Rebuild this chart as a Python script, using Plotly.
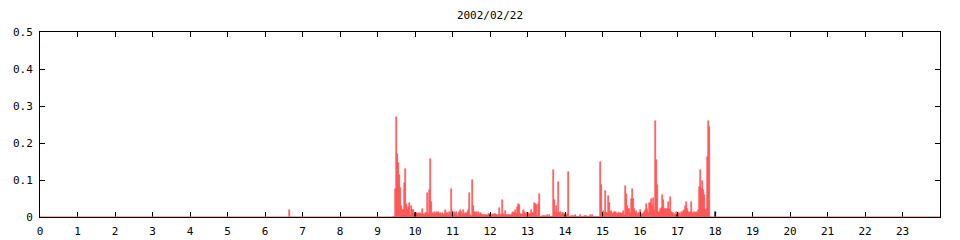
import plotly.graph_objects as go

# ---- data ----
title_text = "2002/02/22"

# main (red) series: samples every 1.6 minutes starting at 09:25:36
start_hour = 9 + 25 / 60 + 36 / 3600
step_min = 1.6
values = [
    0, 0, 0.075, 0.271, 0.17, 0.147, 0.113, 0.079, 0.03, 0.019,
    0.02, 0.093, 0.13, 0.035, 0.02, 0.028, 0.037, 0.005, 0.03, 0.02,
    0.018, 0.01, 0.008, 0.012, 0.008, 0.012, 0.008, 0.01, 0.008, 0.022,
    0.008, 0.005, 0.01, 0.012, 0.066, 0.008, 0.073, 0.157, 0.04, 0.01,
    0.008, 0.014, 0.008, 0.014, 0.01, 0.014, 0.008, 0.01, 0.008, 0.012,
    0.005, 0.008, 0.019, 0.012, 0.012, 0.005, 0.014, 0.01, 0.076, 0.016,
    0.008, 0.014, 0.008, 0.014, 0.003, 0.008, 0.014, 0.019, 0.014, 0.008,
    0.019, 0.008, 0.012, 0.008, 0.014, 0.019, 0.066, 0.005, 0.003, 0.1,
    0.03, 0.014, 0.01, 0.014, 0.008, 0.014, 0.005, 0.01, 0.008, 0.005,
    0.005, 0.005, 0.005, 0.005, 0.003, 0.008, 0.008, 0.008, 0, 0.008,
    0.005, 0.008, 0.008, 0.005, 0.005, 0.005, 0.023, 0.005, 0.008, 0.046,
    0.008, 0.005, 0.016, 0.005, 0.005, 0.005, 0.005, 0.005, 0.005, 0.01,
    0.014, 0.01, 0.019, 0.008, 0.027, 0.034, 0.032, 0.008, 0.005, 0.008,
    0.019, 0.014, 0.008, 0.01, 0.012, 0.01, 0.008, 0.008, 0.019, 0.01,
    0.01, 0.037, 0.035, 0.032, 0.003, 0.035, 0.062, 0, 0, 0.003,
    0.003, 0.003, 0.003, 0, 0.005, 0, 0.005, 0, 0, 0,
    0.127, 0.046, 0.014, 0.03, 0.012, 0.095, 0.012, 0.014, 0.005, 0.01,
    0.01, 0.008, 0.005, 0.003, 0.008, 0.122, 0, 0, 0.003, 0.003,
    0.003, 0.003, 0.005, 0, 0, 0, 0, 0.005, 0, 0,
    0, 0.003, 0.003, 0.003, 0, 0, 0, 0.005, 0, 0.005,
    0, 0, 0, 0, 0, 0, 0, 0.149, 0.086, 0.01,
    0.016, 0.01, 0.07, 0.01, 0.01, 0.057, 0.037, 0.014, 0.016, 0.008,
    0.012, 0.0135, 0.0135, 0.01, 0.008, 0.01, 0.012, 0.012, 0.008, 0.01,
    0.016, 0.005, 0.084, 0.062, 0.03, 0.022, 0.022, 0.01, 0.05, 0.076,
    0.048, 0.022, 0.01, 0.016, 0.008, 0.012, 0.01, 0.019, 0.008, 0.008,
    0.01, 0.014, 0.019, 0.034, 0.022, 0.012, 0.037, 0.037, 0.048, 0.03,
    0.051, 0.019, 0.26, 0.154, 0.086, 0.014, 0.014, 0.022, 0.025, 0.059,
    0.046, 0.021, 0.021, 0.021, 0.021, 0.041, 0.021, 0.053, 0.014, 0.012,
    0.01, 0.005, 0.008, 0.014, 0.012, 0.01, 0.01, 0.005, 0.014, 0.01,
    0.016, 0.019, 0.03, 0.041, 0.021, 0.014, 0.012, 0.014, 0.041, 0.01,
    0.012, 0.014, 0.01, 0.014, 0.012, 0.019, 0.08, 0.127, 0.075, 0.097,
    0.073, 0.059, 0.019, 0.021, 0.163, 0.26, 0.244, 0,
]

# isolated early spike (red)
early_hours = [6.653]
early_values = [0.019]

# second (black) series
black_hours = [10.0, 12.0, 14.0, 17.0, 18.0]
black_values = [0.012, 0.006, 0.006, 0.005, 0.014]

x_ticks = list(range(0, 24))
y_ticks = [0, 0.1, 0.2, 0.3, 0.4, 0.5]
y_tick_text = ["0", "0.1", "0.2", "0.3", "0.4", "0.5"]

# ---- figure ----
step_h = step_min / 60
red_x = early_hours + [start_hour + i * step_h for i in range(len(values))]
red_y = early_values + values

RED = "#ff5050"
FONT = "DejaVu Sans Mono"

fig = go.Figure()
fig.add_trace(go.Bar(
    x=red_x, y=red_y, width=step_h,
    marker=dict(color=RED, line=dict(width=0.6, color=RED)),
    showlegend=False, hoverinfo="x+y",
))
fig.add_trace(go.Bar(
    x=black_hours, y=black_values, width=step_h,
    marker=dict(color="#000000", line=dict(width=0.6, color="#000000")),
    showlegend=False, hoverinfo="x+y",
))

fig.add_shape(type="line", xref="x", yref="y", x0=0, x1=24, y0=0, y1=0,
              line=dict(color=RED, width=1), layer="above")

fig.update_layout(
    width=960, height=240,
    margin=dict(l=40, r=20, t=32, b=23, autoexpand=False),
    paper_bgcolor="white", plot_bgcolor="white",
    barmode="overlay", bargap=0,
    font=dict(family=FONT, size=11, color="black"),
    title=dict(text=title_text, x=(40 + 940) / 2 / 960, xanchor="center",
               y=1 - 15 / 240, yanchor="middle",
               font=dict(family=FONT, size=11, color="black")),
)
fig.update_xaxes(
    range=[0, 24], tickvals=x_ticks, ticktext=[str(v) for v in x_ticks],
    ticks="inside", ticklen=5, tickcolor="black", tickwidth=1,
    showline=True, linecolor="black", linewidth=1, mirror="ticks",
    showgrid=False, zeroline=False, automargin=False, ticklabelstandoff=4,
)
fig.update_yaxes(
    range=[0, 0.5], tickvals=y_ticks, ticktext=y_tick_text,
    ticks="inside", ticklen=5, tickcolor="black", tickwidth=1,
    showline=True, linecolor="black", linewidth=1, mirror="ticks",
    showgrid=False, zeroline=False, automargin=False, ticklabelstandoff=4,
)

fig.write_html("out.html")
